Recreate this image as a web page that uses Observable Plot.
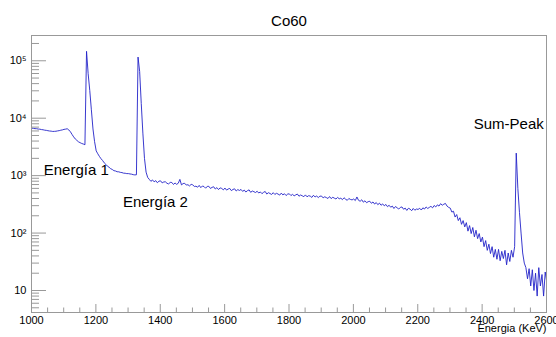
<!DOCTYPE html>
<html><head><meta charset="utf-8">
<script src="https://cdn.jsdelivr.net/npm/d3@7"></script>
<script src="https://cdn.jsdelivr.net/npm/@observablehq/plot@0.6"></script>
<style>
html,body{margin:0;padding:0;background:#fff;}
#chart svg{display:block;}
</style></head><body><div id="chart"></div>
<script>
const title = "Co60";
const xLabel = "Energia (KeV)";
// histogram: first bin energy (keV) and bin width (keV)
const energyStart = 1001;
const binWidth = 5;
const counts = [
  6720, 6650, 6580, 6560, 6470, 6440, 6340, 6290, 6190, 6140,
  6060, 5990, 5950, 5880, 5900, 5930, 6010, 6070, 6180, 6260,
  6390, 6450, 6550, 6240, 5790, 5210, 4730, 4350, 4110, 3880,
  3750, 3630, 3550, 3450, 146000, 59600, 30500, 14000, 6500, 3900,
  2700, 2400, 2160, 1970, 1830, 1670, 1570, 1460, 1400, 1320,
  1280, 1220, 1205, 1170, 1165, 1140, 1130, 1105, 1100, 1085,
  1085, 1070, 1060, 1040, 1030, 1035, 116000, 65000, 18000, 5500,
  2000, 1150, 930, 860, 795, 842, 780, 818, 752, 800,
  812, 748, 776, 781, 735, 718, 762, 760, 702, 745,
  705, 738, 860, 690, 728, 735, 685, 694, 662, 705,
  690, 648, 655, 628, 676, 618, 660, 645, 604, 650,
  652, 598, 625, 640, 585, 618, 572, 612, 598, 565,
  608, 560, 585, 598, 548, 575, 590, 540, 572, 552,
  575, 532, 560, 518, 548, 565, 512, 540, 525, 508,
  535, 498, 520, 485, 512, 530, 478, 505, 488, 470,
  505, 470, 492, 478, 458, 496, 462, 484, 450, 478,
  482, 450, 472, 445, 462, 478, 438, 460, 446, 430,
  462, 428, 448, 440, 418, 455, 425, 442, 415, 438,
  442, 410, 428, 415, 400, 432, 398, 420, 405, 392,
  418, 395, 405, 382, 412, 388, 372, 400, 385, 378,
  392, 368, 425, 372, 358, 380, 345, 365, 338, 352,
  358, 330, 348, 320, 340, 312, 332, 305, 322, 298,
  315, 288, 305, 282, 295, 268, 290, 275, 262, 280,
  285, 260, 272, 248, 270, 262, 245, 268, 250, 262,
  258, 270, 252, 275, 262, 285, 268, 280, 292, 275,
  302, 285, 310, 295, 325, 305, 318, 328, 295, 280,
  272, 232, 240, 190, 210, 165, 185, 142, 165, 128,
  152, 108, 135, 98, 125, 86, 112, 80, 98, 70,
  85, 58, 74, 50, 64, 44, 58, 38, 52, 35,
  52, 33, 48, 36, 50, 28, 45, 32, 50, 38,
  58, 2466, 600, 230, 100, 45, 30, 25, 16, 24,
  12, 23, 10, 20, 8, 25, 12, 19, 8, 21,
  14
];
const xTicks = [1000, 1200, 1400, 1600, 1800, 2000, 2200, 2400, 2600];
const xMinorTicks = [1050, 1100, 1150, 1250, 1300, 1350, 1450, 1500, 1550, 1650, 1700, 1750,
  1850, 1900, 1950, 2050, 2100, 2150, 2250, 2300, 2350, 2450, 2500, 2550];
const yTicks = [10, 100, 1000, 10000, 100000];
const yTickLabels = ["10", "10\u00B2", "10\u00B3", "10\u2074", "10\u2075"];
const yMinorTicks = [5, 6, 7, 8, 9, 20, 30, 40, 50, 60, 70, 80, 90,
  200, 300, 400, 500, 600, 700, 800, 900, 2000, 3000, 4000, 5000, 6000, 7000, 8000, 9000,
  20000, 30000, 40000, 50000, 60000, 70000, 80000, 90000, 200000];
const peakLabels = ["Energía 1", "Energía 2", "Sum-Peak"];
const peakLabelEnergy = [1038, 1284, 2374];
const peakLabelCounts = [1254, 342, 7930];

const W = 556, H = 337, mL = 31, mR = 10, mT = 35, mB = 25;
const frameW = W - mL - mR, frameH = H - mT - mB;
const data = counts.map((c, i) => ({e: energyStart + i * binWidth, c}));
const font = "'Liberation Sans', Arial, Helvetica, sans-serif";
const grey = "#999";

const chart = Plot.plot({
  width: W, height: H,
  marginLeft: mL, marginRight: mR, marginTop: mT, marginBottom: mB,
  style: {fontFamily: font, fontSize: "11px", color: "#000", background: "#fff", overflow: "visible"},
  x: {domain: [1000, 2600], axis: null},
  y: {type: "log", domain: [4.14, 2.754e5], axis: null},
  marks: [
    Plot.line(data, {x: "e", y: "c", stroke: "#2323c8", strokeWidth: 0.9, clip: true}),
    Plot.frame({stroke: grey}),
    Plot.ruleY(yTicks, {stroke: grey, insetRight: frameW - 15}),
    Plot.ruleY(yMinorTicks, {stroke: grey, insetRight: frameW - 8}),
    Plot.ruleX(xTicks, {stroke: grey, insetTop: frameH - 8}),
    Plot.ruleX(xMinorTicks, {stroke: grey, insetTop: frameH - 4.5}),
    Plot.axisY(yTicks, {tickSize: 0, tickPadding: 5, label: null, fontSize: 11,
      tickFormat: d => yTickLabels[yTicks.indexOf(d)]}),
    Plot.axisX(xTicks, {tickSize: 0, tickPadding: 3.5, label: null, fontSize: 11,
      tickFormat: d => String(d)}),
    Plot.text([xLabel], {frameAnchor: "bottom-right", dy: 19, textAnchor: "end", fontSize: 11, fill: "#000"}),
    Plot.text([title], {frameAnchor: "top", dy: -20.5, fontSize: 15, fill: "#000"}),
    Plot.text(peakLabels, {x: (d, i) => peakLabelEnergy[i], y: (d, i) => peakLabelCounts[i],
      text: d => d, textAnchor: "start", fontSize: 15, fill: "#000"})
  ]
});
document.getElementById("chart").appendChild(chart);
</script>
</body></html>
